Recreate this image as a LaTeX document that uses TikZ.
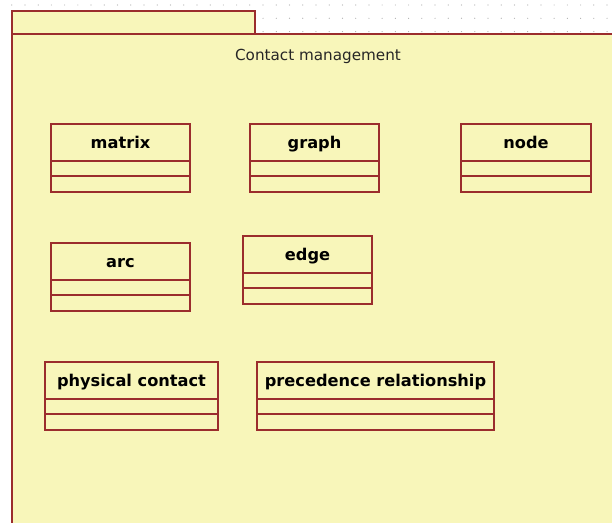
\documentclass[tikz,border=0pt]{standalone}
\usepackage{fontspec}
\setmainfont{DejaVu Sans}
\definecolor{pkgfill}{RGB}{248,246,186}
\definecolor{pkgline}{RGB}{155,45,45}
\definecolor{dotgray}{RGB}{175,175,175}
\tikzset{
  pkg/.style={draw=pkgline, fill=pkgfill, line width=1.8pt},
  clsbox/.style={draw=pkgline, line width=1.3pt},
  clsname/.style={font=\fontsize{16.2}{18}\selectfont\bfseries, inner sep=0pt, text=black, anchor=base},
  pkgtitle/.style={font=\fontsize{15.2}{17}\selectfont, inner sep=0pt, text=black!85, anchor=base},
}
\newcommand\umlcls[6]{%
  \draw[clsbox] (#1,#2) rectangle (#3,#2+68);
  \draw[clsbox] (#1,#2+37) -- (#3,#2+37);
  \draw[clsbox] (#1,#2+52) -- (#3,#2+52);
  \node[clsname] (#6) at ({(#1+#3)/2},#2+24) {#5};
}
\begin{document}
\begin{tikzpicture}[x=1pt,y=-1pt]
\useasboundingbox (0,0) rectangle (612,522);
\fill[white] (0,0) rectangle (612,522);
% dot grid
\foreach \r in {5,18.3,31.6}{
  \foreach \k in {0,...,45}{
    \fill[dotgray] (11.7+13.23*\k,\r) circle (0.6);
  }
}
% package
\draw[pkg] (12,11) rectangle (255,34);
\draw[pkg] (12,540) -- (12,34) -- (630,34) -- (630,540) -- cycle;
\node[pkgtitle] (title) at (318,60) {Contact management};
% classes
\umlcls{51}{124}{190}{graph}{matrix}{matrix}
\umlcls{250}{124}{379}{graph}{graph}{graph}
\umlcls{461}{124}{591}{node}{node}{nodecls}
\umlcls{51}{243}{190}{arc}{arc}{arc}
\umlcls{243}{236}{372}{edge}{edge}{edge}
\umlcls{45}{362}{218}{pc}{physical contact}{physcontact}
\umlcls{257}{362}{494}{pr}{precedence relationship}{precedence}
\end{tikzpicture}
\end{document}
